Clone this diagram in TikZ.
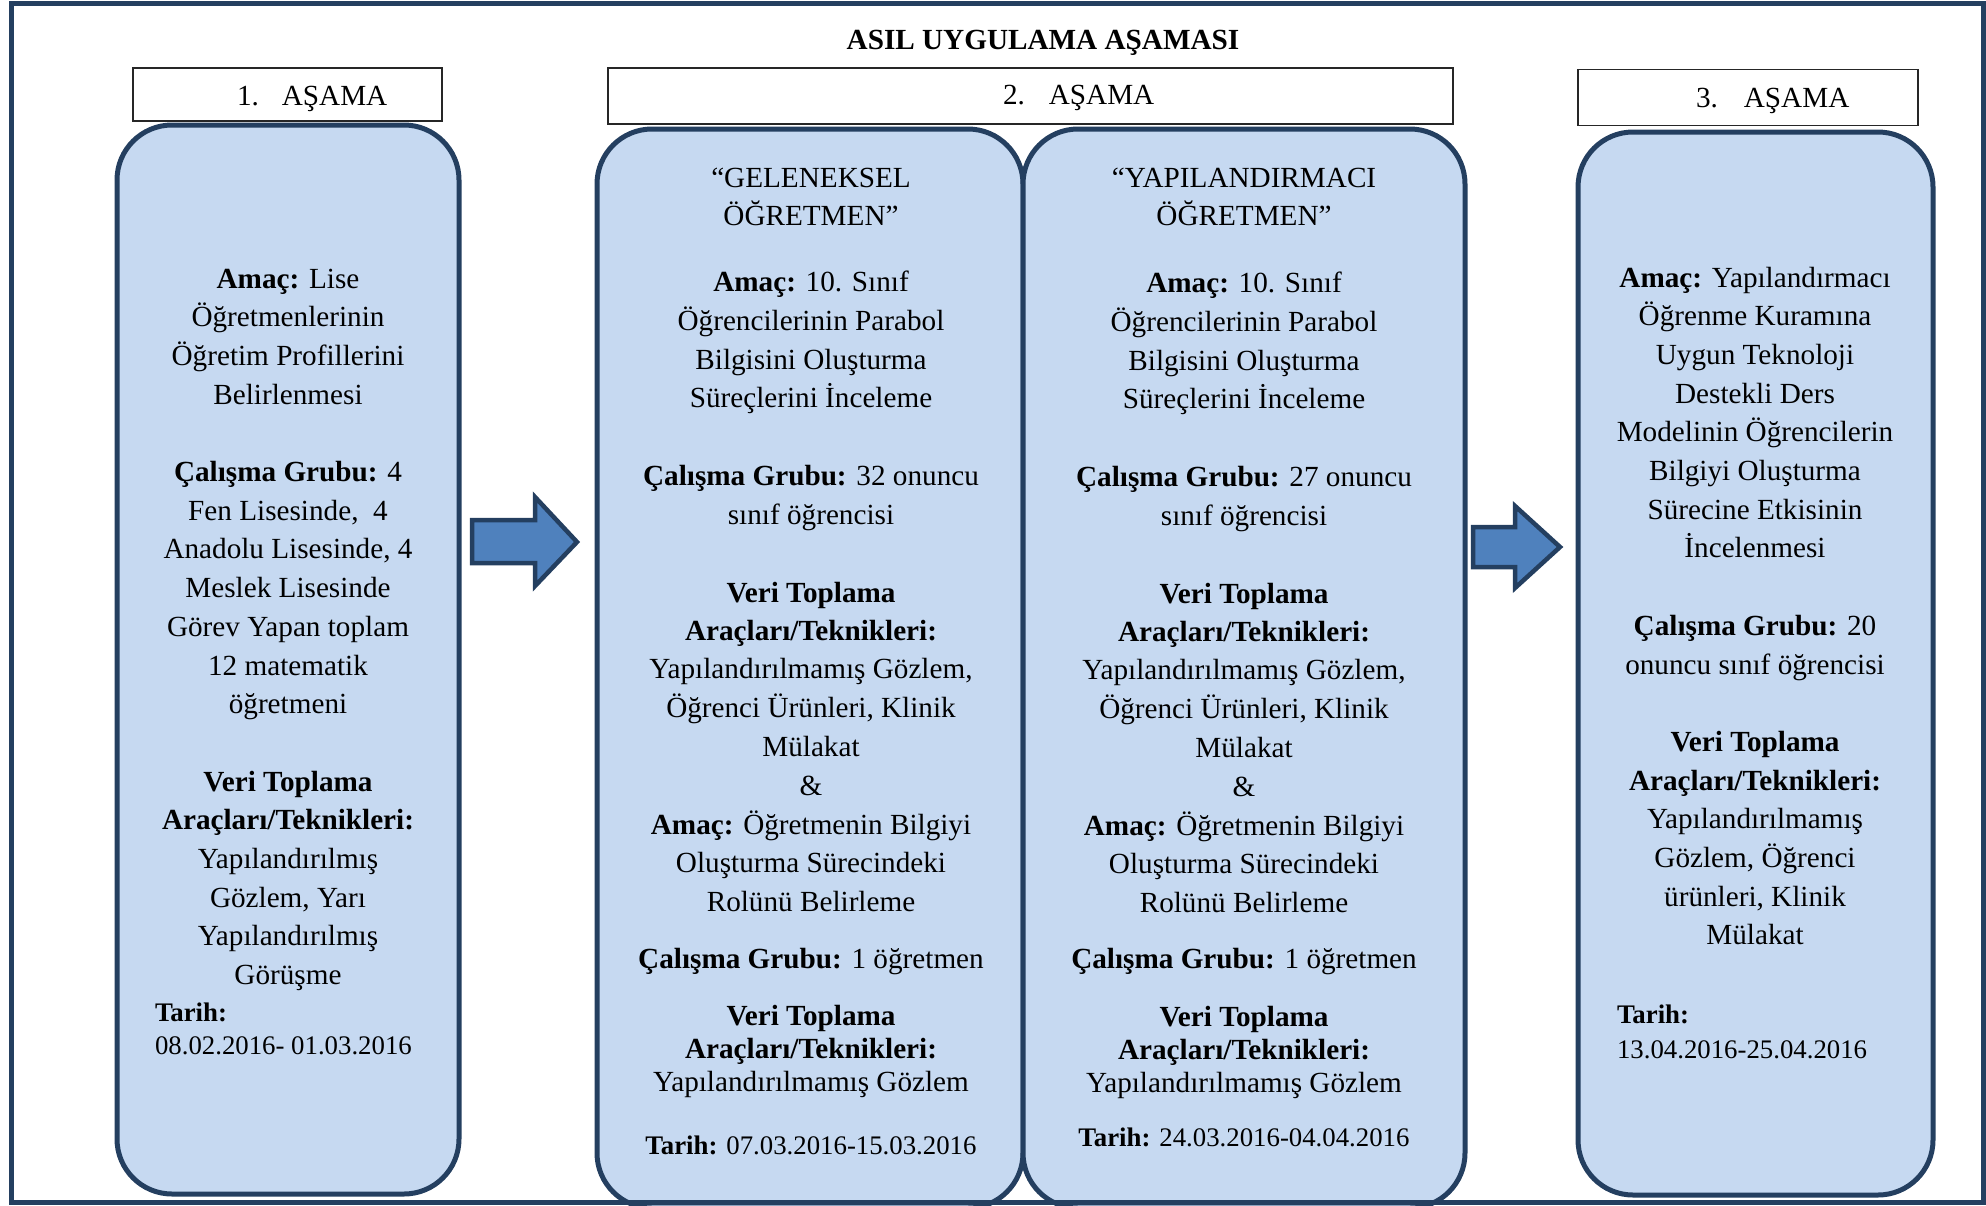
\documentclass[tikz,border=0pt]{standalone}
\usepackage{fontspec}
\setmainfont{Liberation Serif}
\definecolor{panelfill}{HTML}{C6D9F1}
\definecolor{navy}{HTML}{243F60}
\definecolor{arrowblue}{HTML}{4F81BD}
\begin{document}
\begin{tikzpicture}[x=1pt,y=-1pt,
  txt/.style={anchor=base,inner sep=0pt,outer sep=0pt,font=\fontsize{29.2}{38.7}\selectfont},
  txtl/.style={txt,anchor=base west},
  small/.style={font=\fontsize{26.8}{33}\selectfont},
  panel/.style={draw=navy,line width=5pt,fill=panelfill,rounded corners=55pt,inner sep=0pt,outer sep=0pt},
  tag/.style={draw=black!85,line width=1.5pt,fill=white,inner sep=0pt,outer sep=0pt},
  blockarrow/.style={draw=navy,line width=4.5pt,fill=arrowblue,line join=miter},
  frame/.style={draw=navy,line width=5pt}]
\useasboundingbox (0,0) rectangle (1986,1205);

% title
\node[txt,font=\fontsize{29.2}{38.7}\selectfont\bfseries] (title) at (1043,49) {ASIL UYGULAMA AŞAMASI};

% stage tags
\node[tag,minimum width=309pt,minimum height=53pt] (tag1) at (287.5,94.5) {};
\node[tag,minimum width=845pt,minimum height=56pt] (tag2) at (1030.5,96) {};
\node[tag,minimum width=340pt,minimum height=56pt] (tag3) at (1748,97.5) {};
\node[txtl] (tag1t) at (237,105) {1.\hspace{23pt}AŞAMA};
\node[txtl] (tag2t) at (1003,104.5) {2.\hspace{24pt}AŞAMA};
\node[txtl] (tag3t) at (1696,107.5) {3.\hspace{26pt}AŞAMA};

% panels
\node[panel,minimum width=342pt,minimum height=1069pt] (p1) at (288,659.5) {};
\node[panel,minimum width=426pt,minimum height=1079pt] (p2a) at (810,668.5) {};
\node[panel,minimum width=442pt,minimum height=1079pt] (p2b) at (1244,668.5) {};
\node[panel,minimum width=355pt,minimum height=1063pt] (p3) at (1755.5,663.5) {};

% block arrows between the stages
\draw[blockarrow] (472,520) -- (535,520) -- (535,497) -- (577,542) -- (535,586) -- (535,563) -- (472,563) -- cycle;
\draw[blockarrow] (1473,527) -- (1515,527) -- (1515,506) -- (1560,547) -- (1515,588) -- (1515,567) -- (1473,567) -- cycle;

% stage 1 text
\foreach \k/\t in {0/{\textbf{Amaç:} Lise},1/{Öğretmenlerinin},2/{Öğretim Profillerini},3/{Belirlenmesi},
  5/{\textbf{Çalışma Grubu:} 4},6/{Fen Lisesinde,\ \ 4},7/{Anadolu Lisesinde, 4},8/{Meslek Lisesinde},
  9/{Görev Yapan toplam},10/{12 matematik},11/{öğretmeni},
  13/{\textbf{Veri Toplama}},14/{\textbf{Araçları/Teknikleri:}},15/{Yapılandırılmış},16/{Gözlem, Yarı},
  17/{Yapılandırılmış},18/{Görüşme}}
  \node[txt] (p1l\k) at (288,288+\k*38.7) {\t};
\node[txtl,small] (p1d1) at (155,1021) {\textbf{Tarih:}};
\node[txtl,small] (p1d2) at (155,1054) {08.02.2016- 01.03.2016};

% stage 2, first panel
\foreach \y/\t [count=\i] in {187/{“GELENEKSEL},225/{ÖĞRETMEN”},
  291/{\textbf{Amaç:} 10. Sınıf},330/{Öğrencilerinin Parabol},369/{Bilgisini Oluşturma},407/{Süreçlerini İnceleme},
  485/{\textbf{Çalışma Grubu:} 32 onuncu},524/{sınıf öğrencisi},
  602/{\textbf{Veri Toplama}},640/{\textbf{Araçları/Teknikleri:}},678/{Yapılandırılmamış Gözlem,},
  717/{Öğrenci Ürünleri, Klinik},756/{Mülakat},795/{\&},
  834/{\textbf{Amaç:} Öğretmenin Bilgiyi},872/{Oluşturma Sürecindeki},911/{Rolünü Belirleme},
  968/{\textbf{Çalışma Grubu:} 1 öğretmen},
  1025/{\textbf{Veri Toplama}},1058/{\textbf{Araçları/Teknikleri:}},1091/{Yapılandırılmamış Gözlem}}
  \node[txt] (p2al\i) at (811,\y) {\t};
\node[txt,small] (p2ad) at (811,1154) {\textbf{Tarih:} 07.03.2016-15.03.2016};

% stage 2, second panel
\foreach \y/\t [count=\i] in {187/{“YAPILANDIRMACI},225/{ÖĞRETMEN”},
  292/{\textbf{Amaç:} 10. Sınıf},331/{Öğrencilerinin Parabol},370/{Bilgisini Oluşturma},408/{Süreçlerini İnceleme},
  486/{\textbf{Çalışma Grubu:} 27 onuncu},525/{sınıf öğrencisi},
  603/{\textbf{Veri Toplama}},641/{\textbf{Araçları/Teknikleri:}},679/{Yapılandırılmamış Gözlem,},
  718/{Öğrenci Ürünleri, Klinik},757/{Mülakat},796/{\&},
  835/{\textbf{Amaç:} Öğretmenin Bilgiyi},873/{Oluşturma Sürecindeki},912/{Rolünü Belirleme},
  968/{\textbf{Çalışma Grubu:} 1 öğretmen},
  1026/{\textbf{Veri Toplama}},1059/{\textbf{Araçları/Teknikleri:}},1092/{Yapılandırılmamış Gözlem}}
  \node[txt] (p2bl\i) at (1244,\y) {\t};
\node[txt,small] (p2bd) at (1244,1146) {\textbf{Tarih:} 24.03.2016-04.04.2016};

% stage 3 text
\foreach \k/\t in {0/{\textbf{Amaç:} Yapılandırmacı},1/{Öğrenme Kuramına},2/{Uygun Teknoloji},3/{Destekli Ders},
  4/{Modelinin Öğrencilerin},5/{Bilgiyi Oluşturma},6/{Sürecine Etkisinin},7/{İncelenmesi},
  9/{\textbf{Çalışma Grubu:} 20},10/{onuncu sınıf öğrencisi},
  12/{\textbf{Veri Toplama}},13/{\textbf{Araçları/Teknikleri:}},14/{Yapılandırılmamış},15/{Gözlem, Öğrenci},
  16/{ürünleri, Klinik},17/{Mülakat}}
  \node[txt] (p3l\k) at (1755,287+\k*38.7) {\t};
\node[txtl,small] (p3d1) at (1617,1023) {\textbf{Tarih:}};
\node[txtl,small] (p3d2) at (1617,1058) {13.04.2016-25.04.2016};

% outer frame
\draw[frame] (11,3) rectangle (1983,1202);
\end{tikzpicture}
\end{document}
